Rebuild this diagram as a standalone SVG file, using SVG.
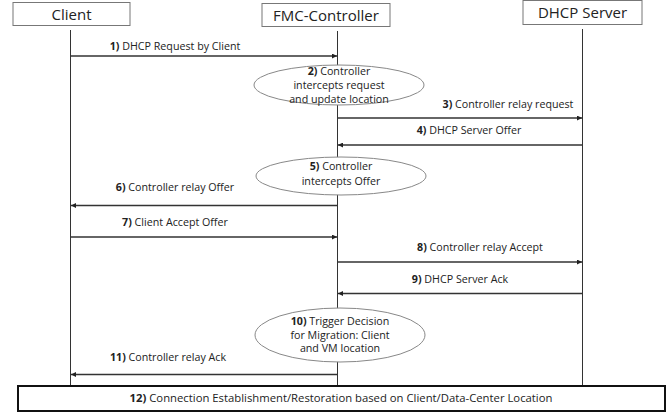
<svg xmlns="http://www.w3.org/2000/svg" width="671" height="413" viewBox="0 0 671 413">
  <defs>
    <marker id="head" viewBox="0 0 10 10" refX="10" refY="5" markerWidth="5" markerHeight="5" orient="auto" markerUnits="userSpaceOnUse">
      <path d="M0,0 L10,5 L0,10 z" fill="#222"/>
    </marker>
    <style>
      .hdr { fill: #fff; stroke: #777; stroke-width: 1; }
      .hdrtxt { font-family: "Open Sans", "Liberation Sans", sans-serif; font-size: 15px; fill: #222; text-anchor: middle; }
      .life { stroke: #333; stroke-width: 1; fill: none; }
      .msg { stroke: #333; stroke-width: 1.5; fill: none; marker-end: url(#head); }
      .lbl { font-family: "Open Sans", "Liberation Sans", sans-serif; font-size: 10.7px; fill: #222; text-anchor: middle; }
      .big { font-size: 11.3px; }
      .step { fill: #fff; stroke: #888; stroke-width: 1; }
      .num { font-weight: bold; }
    </style>
  </defs>
  <rect width="671" height="413" fill="#fff"/>

  <!-- participant headers -->
  <g id="client">
    <rect class="hdr" x="13" y="2.5" width="117" height="23"/>
    <text class="hdrtxt" x="71.5" y="19.5">Client</text>
  </g>
  <g id="controller">
    <rect class="hdr" x="262" y="3.5" width="128" height="23"/>
    <text class="hdrtxt" x="326" y="20.5">FMC-Controller</text>
  </g>
  <g id="dhcp-server">
    <rect class="hdr" x="523" y="0.5" width="119" height="24"/>
    <text class="hdrtxt" x="582.5" y="17.5">DHCP Server</text>
  </g>

  <!-- lifelines -->
  <g id="lifelines">
    <line class="life" x1="70.5" y1="30" x2="70.5" y2="386"/>
    <line class="life" x1="337.5" y1="31" x2="337.5" y2="386"/>
    <line class="life" x1="582.5" y1="29" x2="582.5" y2="386"/>
  </g>

  <!-- controller processing steps -->
  <g id="step2">
    <ellipse class="step" cx="339" cy="85" rx="85" ry="20"/>
    <text class="lbl" x="339" y="75"><tspan class="num">2)</tspan> Controller</text>
    <text class="lbl" x="339" y="89">intercepts request</text>
    <text class="lbl" x="339" y="103">and update location</text>
  </g>
  <g id="step5">
    <ellipse class="step" cx="341" cy="176" rx="85" ry="19"/>
    <text class="lbl" x="341" y="170"><tspan class="num">5)</tspan> Controller</text>
    <text class="lbl" x="341" y="185">intercepts Offer</text>
  </g>
  <g id="step10">
    <ellipse class="step" cx="340" cy="335" rx="85" ry="27"/>
    <text class="lbl" x="340" y="325"><tspan class="num">10)</tspan> Trigger Decision</text>
    <text class="lbl" x="340" y="339">for Migration: Client</text>
    <text class="lbl" x="340" y="352">and VM location</text>
  </g>

  <!-- messages -->
  <g id="connectors">
    <line class="msg" x1="71" y1="56" x2="337" y2="56"/>
    <line class="msg" x1="338" y1="118" x2="582" y2="118"/>
    <line class="msg" x1="582" y1="145" x2="338" y2="145"/>
    <line class="msg" x1="337" y1="205.5" x2="71" y2="205.5"/>
    <line class="msg" x1="71" y1="237" x2="337" y2="237"/>
    <line class="msg" x1="338" y1="262" x2="582" y2="262"/>
    <line class="msg" x1="582" y1="293.5" x2="338" y2="293.5"/>
    <line class="msg" x1="337" y1="374.5" x2="71" y2="374.5"/>
  </g>

  <g id="labels">
    <text class="lbl" x="175" y="50"><tspan class="num">1)</tspan> DHCP Request by Client</text>
    <text class="lbl" x="508" y="108"><tspan class="num">3)</tspan> Controller relay request</text>
    <text class="lbl" x="469" y="134"><tspan class="num">4)</tspan> DHCP Server Offer</text>
    <text class="lbl" x="175" y="191"><tspan class="num">6)</tspan> Controller relay Offer</text>
    <text class="lbl" x="175" y="226"><tspan class="num">7)</tspan> Client Accept Offer</text>
    <text class="lbl" x="480" y="251"><tspan class="num">8)</tspan> Controller relay Accept</text>
    <text class="lbl" x="460" y="283"><tspan class="num">9)</tspan> DHCP Server Ack</text>
    <text class="lbl" x="168" y="361"><tspan class="num">11)</tspan> Controller relay Ack</text>
  </g>

  <!-- closing phase -->
  <g id="step12">
    <rect x="18" y="386" width="647" height="25" fill="#fff" stroke="#111" stroke-width="2"/>
    <text class="lbl big" x="341" y="402"><tspan class="num">12)</tspan> Connection Establishment/Restoration based on Client/Data-Center Location</text>
  </g>
</svg>
